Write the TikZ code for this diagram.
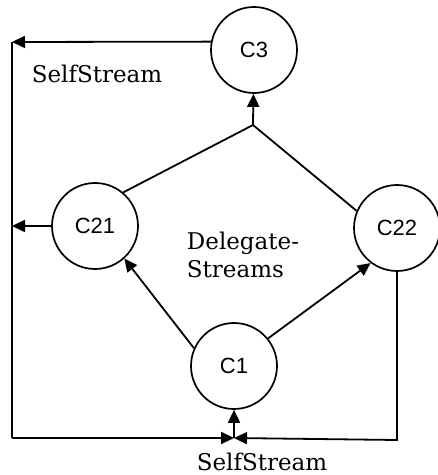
\documentclass[tikz,border=0pt]{standalone}
\usepackage{fontspec}
\setmainfont{DejaVu Serif}
\setsansfont{Liberation Sans}
\usepackage{tikz}
\usetikzlibrary{arrows.meta}
\tikzstyle{comp} = [circle, minimum size=86pt, inner sep=0pt, draw=black, line width=1.7pt, font=\sffamily\fontsize{22}{26}\selectfont]
\tikzstyle{lbl} = [font=\fontsize{23}{28}\selectfont, align=left, inner sep=0pt]
\tikzstyle{arrow} = [line width=1.8pt,->,>={Triangle[length=13pt,width=12pt]}]
\tikzstyle{wire} = [line width=1.8pt]

\begin{document}
\begin{tikzpicture}[x=1pt,y=1pt]
\useasboundingbox (0,0) rectangle (438,475);

\node (C3)[comp] at (254,425) {C3};
\node (C21)[comp] at (95,249) {C21};
\node (C22)[comp] at (397,247) {C22};
\node (C1)[comp] at (234,109) {C1};

\coordinate (apex) at (253,350);
\coordinate (tl) at (12,433);
\coordinate (bl) at (12,37);
\coordinate (bm) at (234,37);
\coordinate (br) at (397,35);

\node (self1)[lbl] at (97,401) {SelfStream};
\node (deleg)[lbl] at (243,220) {Delegate-\\Streams};
\node (self2)[lbl] at (262,13) {SelfStream};

% delegate streams
\draw [wire] (C21.50) -- (apex) -- (C22.157);
\draw [arrow] (apex) -- (C3);
\draw [arrow] (C1.156) -- (C21.-48);
\draw [arrow] (C1.39) -- (C22.233);

% self streams
\draw [arrow] (C3.169) -- (tl);
\draw [wire] (tl) -- (bl);
\draw [arrow] (C21.west) -- (C21.west -| tl);
\draw [arrow] (bl) -- (bm);
\draw [arrow] (C22.south) -- (br) -- (bm);
\draw [arrow] (bm) -- (C1.south);

\end{tikzpicture}
\end{document}
